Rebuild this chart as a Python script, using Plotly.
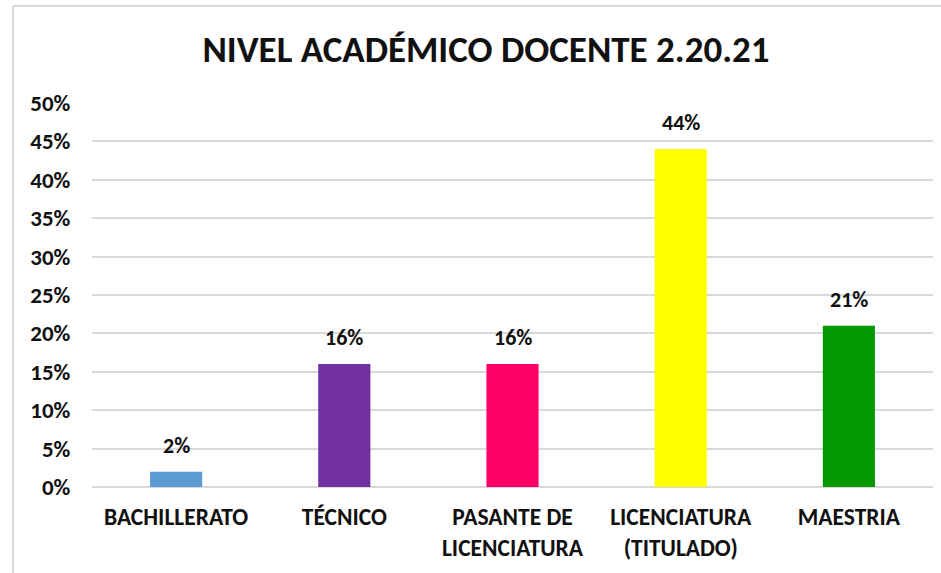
import plotly.graph_objects as go

categories = ["BACHILLERATO", "TÉCNICO", "PASANTE DE<br>LICENCIATURA", "LICENCIATURA<br>(TITULADO)", "MAESTRIA"]
values = [0.02, 0.16, 0.16, 0.44, 0.21]
value_labels = ["2%", "16%", "16%", "44%", "21%"]
colors = ["#5B9BD5", "#7030A0", "#FF0066", "#FFFF00", "#009900"]
y_ticks = [0, 0.05, 0.10, 0.15, 0.20, 0.25, 0.30, 0.35, 0.40, 0.45, 0.50]
y_tick_labels = ["0%", "5%", "10%", "15%", "20%", "25%", "30%", "35%", "40%", "45%", "50%"]
title_text = "NIVEL ACADÉMICO DOCENTE 2.20.21"

FONT = "Carlito, Lato, sans-serif"
TXT = "#111111"

fig = go.Figure()
fig.add_trace(go.Bar(
    x=categories, y=values,
    marker=dict(color=colors, line=dict(width=0)),
    hoverinfo="skip",
))

for c, v, t in zip(categories, values, value_labels):
    fig.add_annotation(x=c, y=v, text=f"<b>{t}</b>", showarrow=False,
                       yanchor="bottom", yshift=11,
                       font=dict(family=FONT, size=22, color=TXT))

W, H = 941, 573
L, R, T, B = 92, 8, 103, 86
pw, ph = W - L - R, H - T - B

def px_to_paper_x(x):
    return (x - L) / pw

def px_to_paper_y(y):
    return (H - B - y) / ph

border = dict(color="#D9D9D9", width=2)
fig.add_shape(type="line", xref="paper", yref="paper",
              x0=px_to_paper_x(13), x1=px_to_paper_x(13),
              y0=px_to_paper_y(6), y1=px_to_paper_y(573), line=border)
fig.add_shape(type="line", xref="paper", yref="paper",
              x0=px_to_paper_x(13), x1=px_to_paper_x(941),
              y0=px_to_paper_y(6), y1=px_to_paper_y(6), line=border)

fig.update_layout(
    width=W, height=H,
    margin=dict(l=L, r=R, t=T, b=B, pad=0),
    paper_bgcolor="white", plot_bgcolor="white",
    showlegend=False,
    bargap=0.69,
    title=dict(text=f"<b>{title_text}</b>", x=486 / W, xanchor="center",
               yref="container", y=1 - 49 / H, yanchor="middle",
               font=dict(family=FONT, size=37, color=TXT)),
    xaxis=dict(showgrid=False, showline=False, zeroline=False,
               tickfont=dict(family=FONT, size=23.5, color=TXT),
               tickangle=0, automargin=False,
               ticks="outside", ticklen=9, tickcolor="rgba(0,0,0,0)",
               fixedrange=True),
    yaxis=dict(range=[0, 0.5], tickvals=y_ticks, ticktext=[f"<b>{t}</b>" for t in y_tick_labels],
               showgrid=True, gridcolor="#D9D9D9", gridwidth=2,
               zeroline=True, zerolinecolor="#D9D9D9", zerolinewidth=2,
               showline=False, automargin=False,
               tickfont=dict(family=FONT, size=23, color=TXT),
               ticks="outside", ticklen=16, tickcolor="rgba(0,0,0,0)",
               fixedrange=True),
)
fig.update_xaxes(tickvals=categories, ticktext=[f"<b>{c}</b>" for c in categories])

fig.write_html("out.html", config={"displayModeBar": False},
               post_script="document.body.style.margin='0';document.body.style.overflow='hidden';")
